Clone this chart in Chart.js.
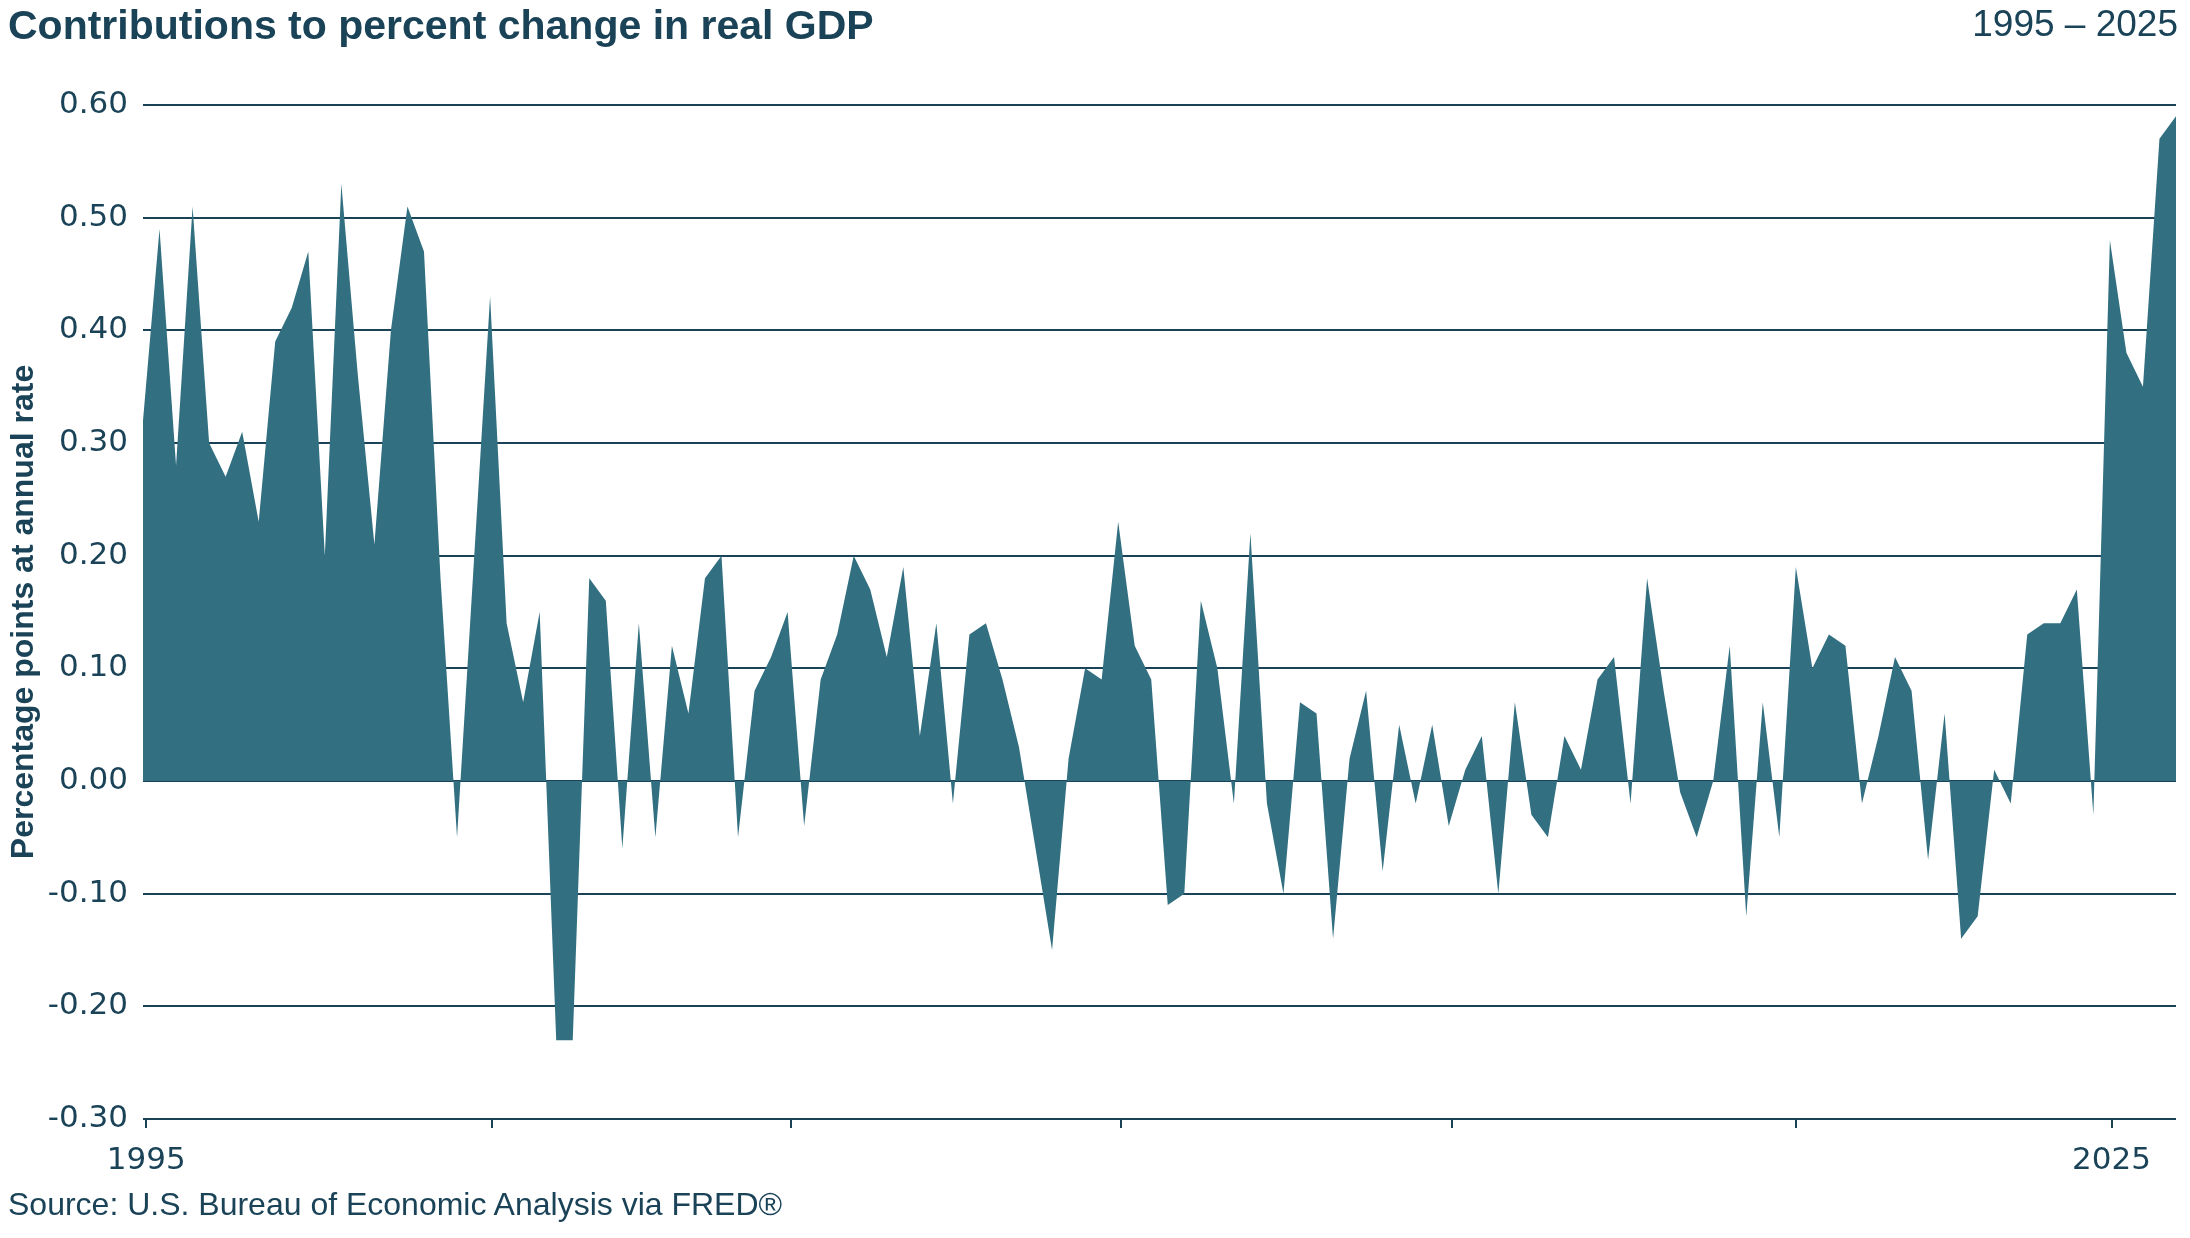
<!DOCTYPE html>
<html lang="en">
<head>
<meta charset="UTF-8">
<title>Contributions to percent change in real GDP</title>
<script src="https://cdn.jsdelivr.net/npm/chart.js"></script>
<style>
  html, body { margin: 0; padding: 0; background: #fff; }
  body { width: 2190px; height: 1238px; position: relative; overflow: hidden;
         font-family: "Liberation Sans", Arial, sans-serif; color: #1b4358; }
  #wrap { position: absolute; left: 0; top: 0; width: 2190px; height: 1238px; }
  #title { position: absolute; left: 8px; top: 2px; font-size: 41px; font-weight: bold; }
  #range { position: absolute; right: 12px; top: 3px; font-size: 37px; }
  #source { position: absolute; left: 8px; top: 1186px; font-size: 32px; }
</style>
</head>
<body>
<div id="wrap"><canvas id="gdp" width="2190" height="1238"></canvas></div>
<div id="title">Contributions to percent change in real GDP</div>
<div id="range">1995 – 2025</div>
<div id="source">Source: U.S. Bureau of Economic Analysis via FRED®</div>
<script>
// quarterly contributions, percentage points at annual rate
const values = [
  0.32, 0.49, 0.28, 0.51, 0.30, 0.27, 0.31, 0.23, 0.39, 0.42,
  0.47, 0.20, 0.53, 0.36, 0.21, 0.40, 0.51, 0.47, 0.18, -0.05,
  0.19, 0.43, 0.14, 0.07, 0.15, -0.23, -0.23, 0.18, 0.16, -0.06,
  0.14, -0.05, 0.12, 0.06, 0.18, 0.20, -0.05, 0.08, 0.11, 0.15,
  -0.04, 0.09, 0.13, 0.20, 0.17, 0.11, 0.19, 0.04, 0.14, -0.02,
  0.13, 0.14, 0.09, 0.03, -0.06, -0.15, 0.02, 0.10, 0.09, 0.23,
  0.12, 0.09, -0.11, -0.10, 0.16, 0.10, -0.02, 0.22, -0.02, -0.10,
  0.07, 0.06, -0.14, 0.02, 0.08, -0.08, 0.05, -0.02, 0.05, -0.04,
  0.01, 0.04, -0.10, 0.07, -0.03, -0.05, 0.04, 0.01, 0.09, 0.11,
  -0.02, 0.18, 0.08, -0.01, -0.05, 0.00, 0.12, -0.12, 0.07, -0.05,
  0.19, 0.10, 0.13, 0.12, -0.02, 0.04, 0.11, 0.08, -0.07, 0.06,
  -0.14, -0.12, 0.01, -0.02, 0.13, 0.14, 0.14, 0.17, -0.03, 0.48,
  0.38, 0.35, 0.57, 0.59
];
const quarters = values.map((v, i) => (1995 + Math.floor(i / 4)) + ' Q' + (i % 4 + 1));

// x tick marks (in quarter index units) and their labels
const tickPositions = [0.2, 21.1, 39.2, 59.2, 79.2, 100, 119.1];
const tickLabels = ['1995', '', '', '', '', '', '2025'];

const yMin = -0.3, yMax = 0.6, yStep = 0.1;

const navy = '#1b4358';
const fillColor = '#316f81';
const tickFont = { family: '"DejaVu Sans", sans-serif', size: 31 };

const points = values.map((v, i) => ({ x: i, y: v, q: quarters[i] }));

new Chart(document.getElementById('gdp'), {
  type: 'line',
  data: {
    datasets: [{
      data: points,
      fill: 'origin',
      backgroundColor: fillColor,
      borderWidth: 0,
      pointRadius: 0,
      tension: 0
    }]
  },
  options: {
    responsive: false,
    animation: false,
    layout: { padding: { top: 105, right: 14, left: 0, bottom: 0 } },
    plugins: { legend: { display: false }, tooltip: { enabled: false } },
    scales: {
      x: {
        type: 'linear',
        min: 0,
        max: values.length - 1,
        border: { display: false },
        grid: { drawOnChartArea: false, drawTicks: true, tickLength: 9, color: navy, lineWidth: 2 },
        afterBuildTicks: s => { s.ticks = tickPositions.map(v => ({ value: v })); },
        afterFit: s => { s.height = 119; },
        ticks: {
          autoSkip: false, maxRotation: 0, padding: 14,
          color: navy, font: tickFont,
          callback: (v, i) => tickLabels[i]
        }
      },
      y: {
        min: yMin,
        max: yMax,
        border: { display: false },
        grid: { color: navy, lineWidth: 2, drawTicks: false },
        afterFit: s => { s.width = 143; },
        ticks: {
          stepSize: yStep, padding: 15, color: navy, font: tickFont,
          callback: v => Math.abs(v) < 1e-9 ? '0.00' : v.toFixed(2)
        },
        title: {
          display: true,
          text: 'Percentage points at annual rate',
          color: navy,
          padding: { top: 5, bottom: 0 },
          font: { family: '"Liberation Sans", Arial, sans-serif', size: 32, weight: 'bold' }
        }
      }
    }
  }
});
</script>
</body>
</html>
